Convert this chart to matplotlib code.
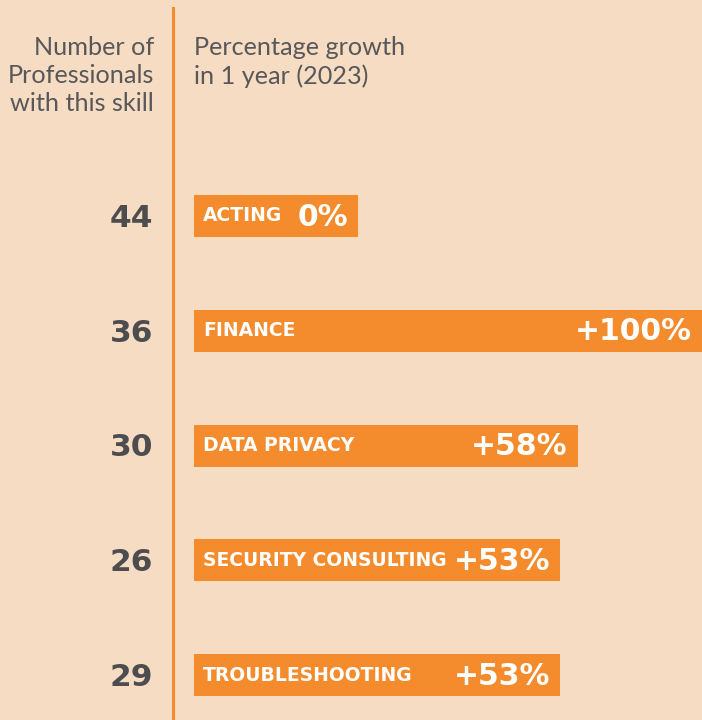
import numpy as np
import matplotlib.pyplot as plt
from matplotlib import transforms

# Data
skills = ["ACTING", "FINANCE", "DATA PRIVACY", "SECURITY CONSULTING", "TROUBLESHOOTING"]
professionals = [44, 36, 30, 26, 29]
growth = [0, 100, 58, 53, 53]

bg = "#F6DCC3"
orange = "#F48B2C"
grey = "#4D4D4F"

# bars are drawn on a root-like scale; a 0% bar still needs room for its label
min_len = 11.1
bar_len = [max(g, min_len) for g in growth]

W, H = 702, 720
fig = plt.figure(figsize=(W / 100, H / 100), dpi=100, facecolor=bg)

# bar axes: from the left edge of the bars to the right edge of the figure
ax = fig.add_axes([194 / W, 0, 508 / W, 1])
ax.set_facecolor(bg)
ax.set_xscale("function", functions=(lambda v: v ** 0.515, lambda v: v ** (1 / 0.515)))
ax.set_xlim(0, 100)
row_px = 114.8
ax.set_ylim((H - 216) / row_px, -216 / row_px)
ax.axis("off")

y = np.arange(len(skills))
ax.barh(y, bar_len, height=42 / row_px, left=0, color=orange, zorder=2)

shift = lambda px: transforms.ScaledTranslation(px / 100, 0, fig.dpi_scale_trans)
for i, (s, g, b) in enumerate(zip(skills, growth, bar_len)):
    ax.text(0, i, s, color="white", fontsize=13.5, fontweight="bold",
            family="DejaVu Sans", va="center", ha="left",
            transform=ax.transData + shift(9), zorder=3)
    pct = "0%" if g == 0 else f"+{g}%"
    ax.text(b, i + 0.01, pct, color="white", fontsize=21.5, fontweight="bold",
            family="DejaVu Sans", va="center", ha="right",
            transform=ax.transData + shift(-10), zorder=3)

# professional counts, left of the divider
blend = transforms.blended_transform_factory(fig.transFigure, ax.transData)
for i, n in enumerate(professionals):
    ax.text(153 / W, i + 0.02, str(n), color=grey, fontsize=22.5, fontweight="bold",
            family="DejaVu Sans", va="center", ha="right", transform=blend)

# divider
fig.add_artist(plt.Line2D([173 / W, 173 / W], [0, 1 - 8 / H], color=orange,
                          lw=2.2, transform=fig.transFigure))

# column headers
fig.text(154 / W, 1 - 36 / H, "Number of\nProfessionals\nwith this skill",
         ha="right", va="top", fontsize=18.2, color="#58585A", family="Lato",
         linespacing=1.27)
fig.text(194 / W, 1 - 36 / H, "Percentage growth\nin 1 year (2023)",
         ha="left", va="top", fontsize=18.2, color="#58585A", family="Lato",
         linespacing=1.27)

plt.savefig("out.png", dpi=100, facecolor=bg)
